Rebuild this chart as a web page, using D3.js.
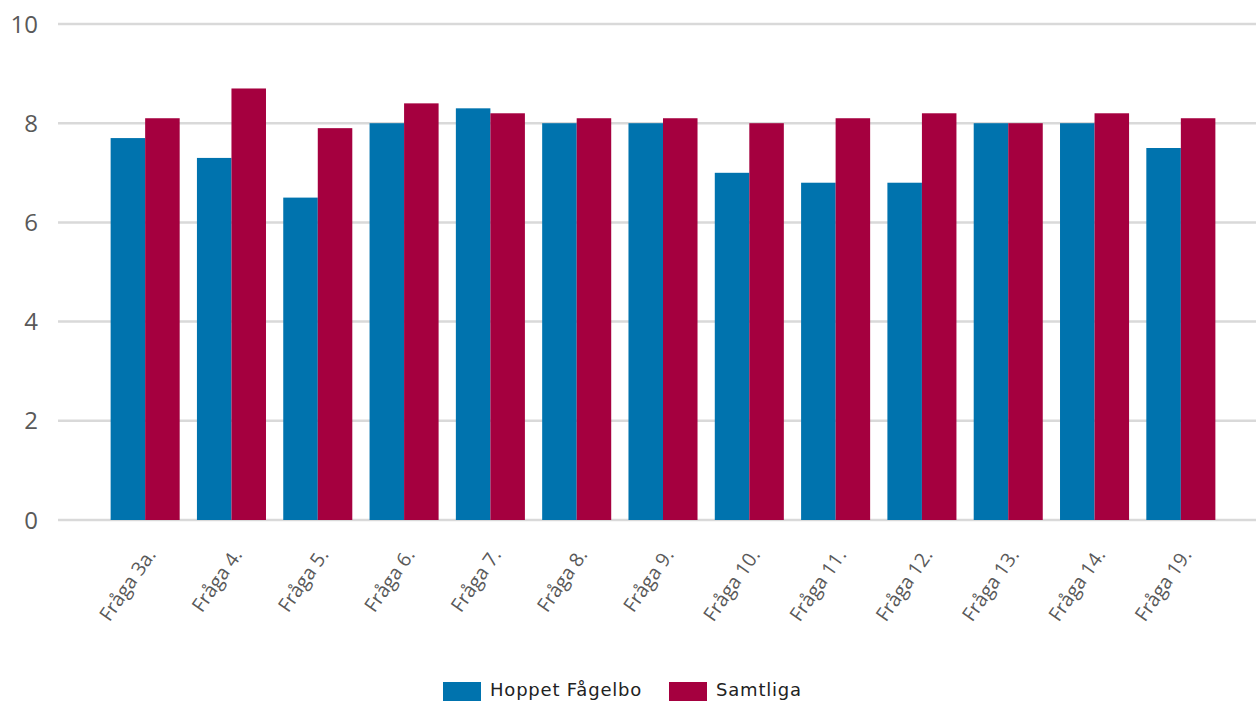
<!DOCTYPE html>
<html><head><meta charset="utf-8">
<script src="https://cdn.jsdelivr.net/npm/d3@7"></script>
<style>body{margin:0;background:#fff}svg{display:block}</style>
</head><body>
<svg id="c" width="1256" height="702"></svg>
<script>
const categories = ["Fråga 3a.","Fråga 4.","Fråga 5.","Fråga 6.","Fråga 7.","Fråga 8.","Fråga 9.","Fråga 10.","Fråga 11.","Fråga 12.","Fråga 13.","Fråga 14.","Fråga 19."];
const seriesNames = ["Hoppet Fågelbo","Samtliga"];
const hoppet = [7.7,7.3,6.5,8.0,8.3,8.0,8.0,7.0,6.8,6.8,8.0,8.0,7.5];
const samtliga = [8.1,8.7,7.9,8.4,8.2,8.1,8.1,8.0,8.1,8.2,8.0,8.2,8.1];
const yTicks = [0,2,4,6,8,10];
const colors = ["#0073ae","#a5003f"];

const svg = d3.select("#c");
const y = d3.scaleLinear().domain([0,10]).range([520,24]);
const x = d3.scaleBand().domain(categories).range([102,1224]).paddingInner(0.2).paddingOuter(0.1);
const xs = d3.scaleBand().domain(seriesNames).range([0,x.bandwidth()]);

svg.append("g").selectAll("line").data(yTicks).join("line")
  .attr("x1",58).attr("x2",1256).attr("y1",d=>y(d)).attr("y2",d=>y(d))
  .attr("stroke","#d9d9d9").attr("stroke-width",2.5);

svg.append("g").selectAll("text").data(yTicks).join("text")
  .attr("x",38).attr("y",d=>y(d)).attr("dy","0.36em").attr("text-anchor","end")
  .attr("font-family","Open Sans").attr("font-size",24).attr("fill","#595959").text(d=>d);

const data = [hoppet, samtliga];
const g = svg.append("g");
seriesNames.forEach((s,si)=>{
  g.append("g").selectAll("rect").data(categories).join("rect")
   .attr("x",c=>x(c)+xs(s)).attr("width",xs.bandwidth())
   .attr("y",(c,i)=>y(data[si][i])).attr("height",(c,i)=>y(0)-y(data[si][i]))
   .attr("fill",colors[si]);
});

svg.append("g").selectAll("text").data(categories).join("text")
  .attr("transform",c=>`translate(${x(c)+x.bandwidth()/2+6},${551}) rotate(-55)`)
  .attr("text-anchor","end").attr("dy","0.35em")
  .attr("font-family","Open Sans").attr("font-size",19.5).attr("fill","#595959").text(c=>c);

const legend = [{n:seriesNames[0],x:443,c:colors[0]},{n:seriesNames[1],x:669,c:colors[1]}];
const lg = svg.append("g");
legend.forEach(l=>{
  lg.append("rect").attr("x",l.x).attr("y",682).attr("width",38).attr("height",19).attr("fill",l.c);
  lg.append("text").attr("x",l.x+47).attr("y",696)
    .attr("font-family","DejaVu Sans").attr("font-size",18).attr("letter-spacing",0.8)
    .attr("fill","#222").text(l.n);
});
</script>
</body></html>
